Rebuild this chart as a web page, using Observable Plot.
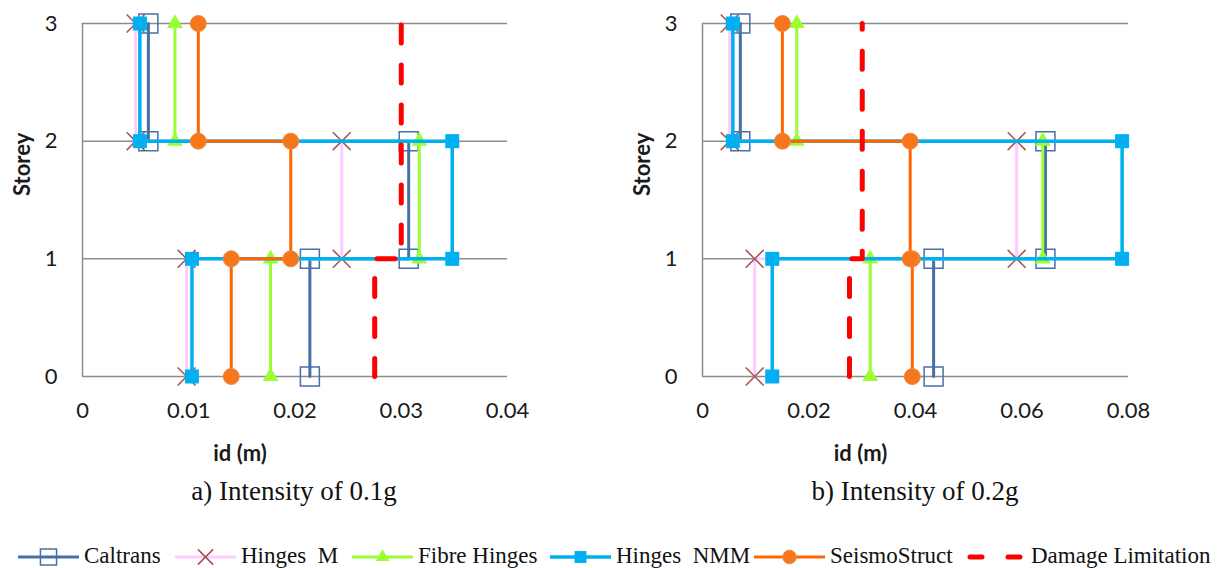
<!DOCTYPE html>
<html><head><meta charset="utf-8">
<script src="https://cdn.jsdelivr.net/npm/d3@7"></script>
<script src="https://cdn.jsdelivr.net/npm/@observablehq/plot@0.6"></script>
<style>
body{margin:0;background:#fff;}
#root{position:relative;width:1228px;height:568px;overflow:hidden;background:#fff;}
.panel{position:absolute;top:0;width:614px;}
.cap{position:absolute;font-family:"Liberation Serif",serif;font-size:27px;line-height:27px;color:#111;white-space:nowrap;transform:translateX(-50%);}
.leg{position:absolute;top:542px;height:28px;display:flex;align-items:center;font-family:"Liberation Serif",serif;font-size:23px;color:#111;white-space:pre;}
.leg svg{margin-right:5px;}
</style></head><body><div id="root"></div>
<script>
// ---- data ----
const storeys = [0, 1, 2, 3];
const seriesNames = ["Caltrans", "Hinges  M", "Fibre Hinges", "Hinges  NMM", "SeismoStruct", "Damage Limitation"];
const xTicksA = [0, 0.01, 0.02, 0.03, 0.04];
const xTicksB = [0, 0.02, 0.04, 0.06, 0.08];
const captions = ["a) Intensity of 0.1g", "b) Intensity of 0.2g"];
const xTitle = "id (m)";
const yTitle = "Storey";
// interstorey drift (m) for storeys 0-1, 1-2, 2-3 — intensity 0.1g
const caltransA = [0.0214, 0.0307, 0.0062];
const hingesMA  = [0.0098, 0.0244, 0.0050];
const fibreA    = [0.0177, 0.0317, 0.0087];
const nmmA      = [0.0103, 0.0348, 0.0054];
const seismoA   = [0.0140, 0.0196, 0.0109];
const damageA   = [0.0275, 0.0300, 0.0300];
// intensity 0.2g
const caltransB = [0.0434, 0.0644, 0.0071];
const hingesMB  = [0.0098, 0.0590, 0.0051];
const fibreB    = [0.0315, 0.0639, 0.0177];
const nmmB      = [0.0131, 0.0788, 0.0057];
const seismoB   = [0.0394, 0.0390, 0.0150];
const damageB   = [0.0276, 0.0300, 0.0300];

// ---- styles ----
const styles = [
  {line: "#4670A8", w: 3, symbol: "square", r: 10.7, fill: "none", stroke: "#4670A8", sw: 1.5},
  {line: "#FFCCFF", w: 3, symbol: "times", r: 8.2, fill: "none", stroke: "#A85050", sw: 1.5},
  {line: "#99FF33", w: 3, symbol: "triangle", r: 5.9, fill: "#99FF33", stroke: "none", sw: 0},
  {line: "#00B0F0", w: 3.5, symbol: "square", r: 7.9, fill: "#00B0F0", stroke: "none", sw: 0},
  {line: "#FF6600", w: 3, symbol: "circle", r: 8, fill: "#F7761C", stroke: "#EC8A45", sw: 1},
  {line: "#FF0000", w: 5, dash: "18,22", symbol: null}
];

function steps(vals) {
  const pts = [];
  vals.forEach((v, i) => { pts.push({x: v, y: storeys[i]}); pts.push({x: v, y: storeys[i + 1]}); });
  return pts;
}

function panel(seriesVals, xTicks, marginLeft, marginRight) {
  const marks = [
    Plot.ruleY(storeys, {stroke: "#8c8c8c", strokeWidth: 1.5}),
    Plot.ruleX([xTicks[0]], {y1: storeys[0], y2: storeys[3], stroke: "#8c8c8c", strokeWidth: 1.5})
  ];
  seriesVals.forEach((vals, i) => {
    const st = styles[i];
    const pts = steps(vals);
    if (st.dash) {
      marks.push(Plot.line(pts, {x: "x", y: "y", stroke: st.line, strokeWidth: st.w, strokeDasharray: st.dash, strokeLinecap: "round", curve: "linear"}));
    } else {
      marks.push(Plot.line(pts, {x: "x", y: "y", stroke: st.line, strokeWidth: st.w}));
      marks.push(Plot.dot(pts, {x: "x", y: "y", symbol: st.symbol, r: st.r, fill: st.fill, stroke: st.stroke, strokeWidth: st.sw}));
    }
  });
  marks.push(Plot.axisX({ticks: xTicks, tickSize: 0, tickPadding: 26, tickFormat: d => String(d), label: null}));
  marks.push(Plot.axisY({ticks: storeys, tickSize: 0, tickPadding: 25, tickFormat: d => String(d), label: null}));
  marks.push(Plot.text([yTitle], {frameAnchor: "left", dx: -60, dy: -4, rotate: -90, fontWeight: "bold", fontSize: 22}));
  marks.push(Plot.text([xTitle], {frameAnchor: "bottom", dy: 84, dx: -55, fontWeight: "bold", fontSize: 22}));
  return Plot.plot({
    width: 614, height: 470,
    marginLeft, marginRight, marginTop: 23, marginBottom: 94,
    x: {domain: [xTicks[0], xTicks[xTicks.length - 1]], axis: null},
    y: {domain: [storeys[0], storeys[3]], axis: null},
    style: {fontFamily: "Lato, sans-serif", fontSize: "22px", color: "#1a1a1a", background: "transparent", overflow: "visible"},
    marks
  });
}

const root = document.getElementById("root");
const panels = [
  {vals: [caltransA, hingesMA, fibreA, nmmA, seismoA, damageA], ticks: xTicksA, left: 0, ml: 82, mr: 107, cx: 294},
  {vals: [caltransB, hingesMB, fibreB, nmmB, seismoB, damageB], ticks: xTicksB, left: 614, ml: 88, mr: 100, cx: 915}
];
panels.forEach((p, i) => {
  const d = document.createElement("div");
  d.className = "panel";
  d.style.left = p.left + "px";
  d.appendChild(panel(p.vals, p.ticks, p.ml, p.mr));
  root.appendChild(d);
  const c = document.createElement("div");
  c.className = "cap";
  c.style.left = p.cx + "px";
  c.style.top = "478px";
  c.textContent = captions[i];
  root.appendChild(c);
});

// legend
const legX = [18, 175, 352, 550, 754, 966];
const swW = [61, 61, 61, 61, 71, 60];
const symMap = {square: d3.symbolSquare, times: d3.symbolTimes, triangle: d3.symbolTriangle, circle: d3.symbolCircle};
seriesNames.forEach((name, i) => {
  const st = styles[i];
  const w = swW[i];
  const div = document.createElement("div");
  div.className = "leg";
  div.style.left = legX[i] + "px";
  const ns = "http://www.w3.org/2000/svg";
  const svg = document.createElementNS(ns, "svg");
  svg.setAttribute("width", w); svg.setAttribute("height", 24);
  const ln = document.createElementNS(ns, "line");
  ln.setAttribute("x1", st.dash ? 4 : 0); ln.setAttribute("x2", st.dash ? w - 4 : w);
  ln.setAttribute("y1", 13); ln.setAttribute("y2", 13);
  ln.setAttribute("stroke", st.line); ln.setAttribute("stroke-width", st.w);
  if (st.dash) { ln.setAttribute("stroke-dasharray", "12,26"); ln.setAttribute("stroke-linecap", "round"); }
  svg.appendChild(ln);
  if (st.symbol) {
    const sym = document.createElementNS(ns, "path");
    const rr = st.r * 0.85;
    sym.setAttribute("d", d3.symbol(symMap[st.symbol], rr * rr * Math.PI)());
    sym.setAttribute("transform", `translate(${w / 2},13)`);
    sym.setAttribute("fill", st.fill); sym.setAttribute("stroke", st.stroke); sym.setAttribute("stroke-width", st.sw);
    svg.appendChild(sym);
  }
  div.appendChild(svg);
  const t = document.createElement("span");
  t.textContent = name;
  div.appendChild(t);
  root.appendChild(div);
});
</script></body></html>
